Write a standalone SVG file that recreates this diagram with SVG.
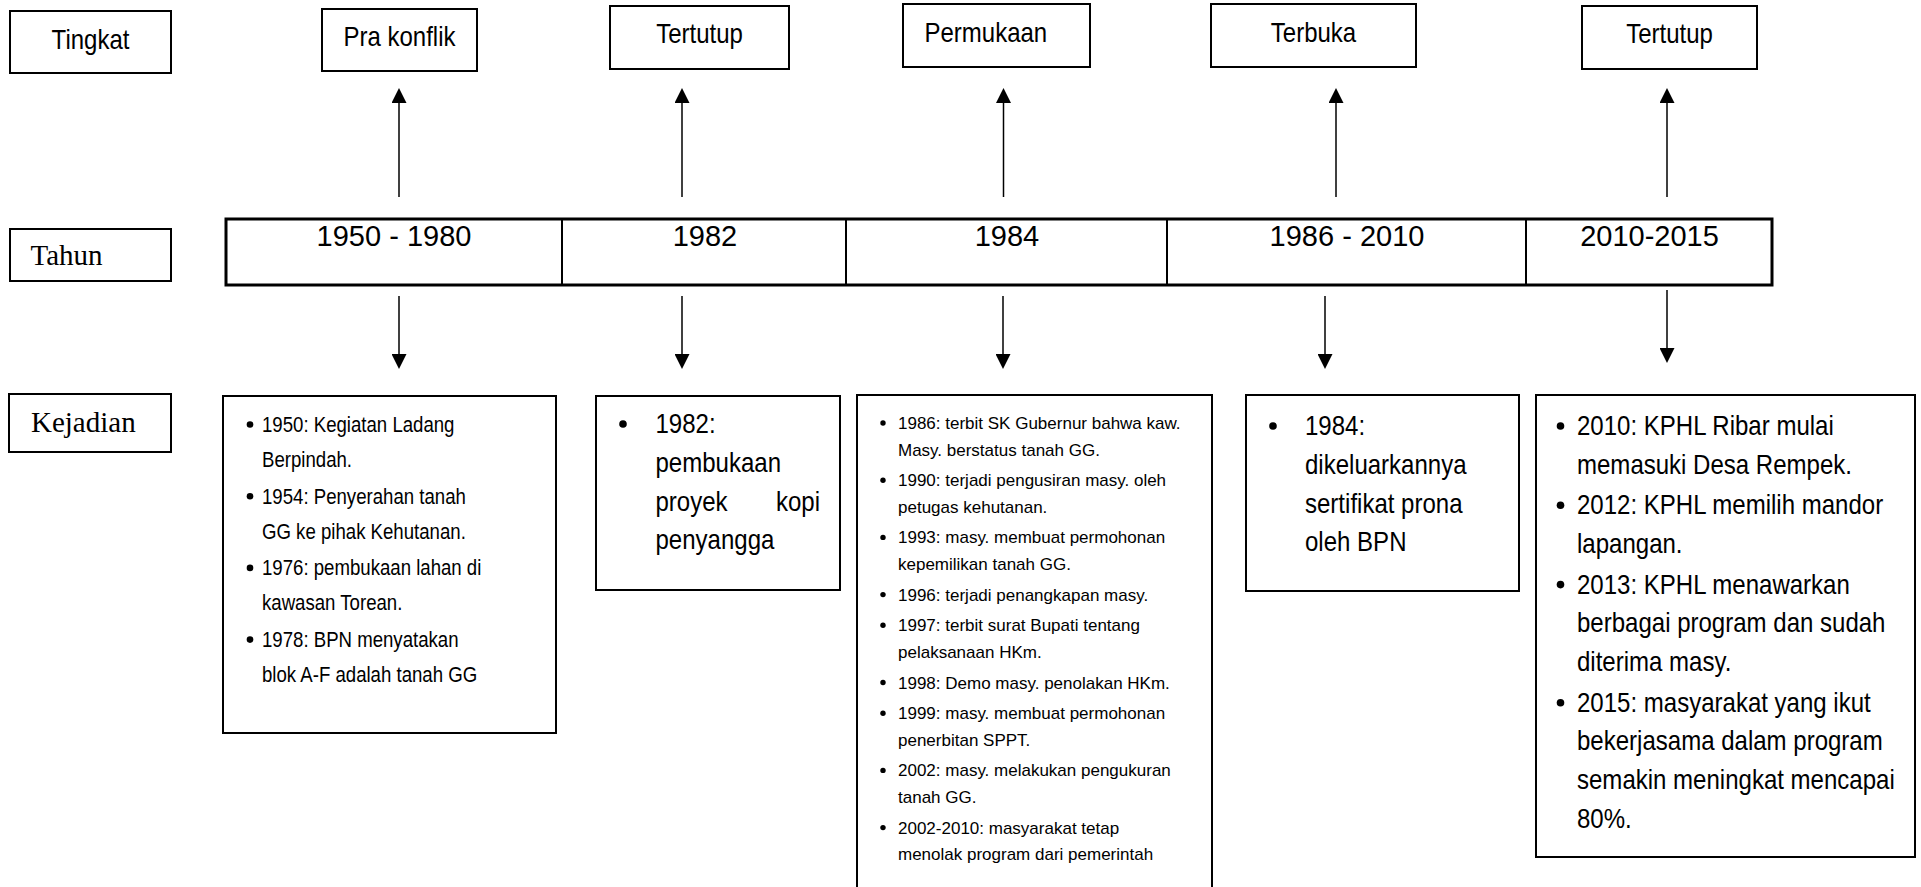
<svg xmlns="http://www.w3.org/2000/svg" width="1921" height="887" viewBox="0 0 1921 887">
<style>
  .box{fill:#fff;stroke:#000;stroke-width:2}
  .tl{fill:none;stroke:#000;stroke-width:3}
  .div{stroke:#000;stroke-width:2}
  .sans{font-family:'Liberation Sans',Arial,sans-serif;fill:#000}
  .serif{font-family:'Liberation Serif','Times New Roman',serif;fill:#000}
  .lvl{font-size:28px}
  .yr{font-size:29px}
  .lab{font-size:29px}
  .t23{font-size:23px}
  .t27{font-size:27px}
  .t17{font-size:17px}
  .c{text-anchor:middle}
  .conn line{stroke:#000;stroke-width:1.5}
</style>
<defs>
  <marker id="ah" markerUnits="userSpaceOnUse" markerWidth="15" markerHeight="15" refX="5" refY="7.5" orient="auto">
    <path d="M0,0 L15,7.5 L0,15 z" fill="#000"/>
  </marker>
</defs>
<rect width="1921" height="887" fill="#fff"/>

<!-- Row labels -->
<g id="label-tingkat"><rect class="box" x="10" y="11" width="161" height="62"/><g transform="translate(90.5,0) scale(0.857,1)"><text class="sans lvl c" x="0" y="49">Tingkat</text></g></g>
<g id="label-tahun"><rect class="box" x="10" y="229" width="161" height="52"/><text class="serif lab" x="30.5" y="265">Tahun</text></g>
<g id="label-kejadian"><rect class="box" x="9" y="394" width="162" height="58"/><text class="serif lab" x="31" y="432">Kejadian</text></g>

<!-- Level boxes -->
<g id="lvl-1"><rect class="box" x="322" y="9" width="155" height="62"/><g transform="translate(399.5,0) scale(0.857,1)"><text class="sans lvl c" x="0" y="46">Pra konflik</text></g></g>
<g id="lvl-2"><rect class="box" x="610" y="6" width="179" height="63"/><g transform="translate(699.5,0) scale(0.857,1)"><text class="sans lvl c" x="0" y="43">Tertutup</text></g></g>
<g id="lvl-3"><rect class="box" x="903" y="4" width="187" height="63"/><g transform="translate(924.5,0) scale(0.857,1)"><text class="sans lvl" x="0" y="42">Permukaan</text></g></g>
<g id="lvl-4"><rect class="box" x="1211" y="4" width="205" height="63"/><g transform="translate(1313.5,0) scale(0.857,1)"><text class="sans lvl c" x="0" y="42">Terbuka</text></g></g>
<g id="lvl-5"><rect class="box" x="1582" y="6" width="175" height="63"/><g transform="translate(1669.5,0) scale(0.857,1)"><text class="sans lvl c" x="0" y="43">Tertutup</text></g></g>

<!-- Timeline -->
<g id="timeline">
  <rect class="tl" x="226" y="219" width="1546" height="66"/>
  <line class="div" x1="562" y1="219" x2="562" y2="285"/>
  <line class="div" x1="846" y1="219" x2="846" y2="285"/>
  <line class="div" x1="1167" y1="219" x2="1167" y2="285"/>
  <line class="div" x1="1526" y1="219" x2="1526" y2="285"/>
  <g id="year-1"><text class="sans yr c" x="394" y="246">1950 - 1980</text></g>
  <g id="year-2"><text class="sans yr c" x="705" y="246">1982</text></g>
  <g id="year-3"><text class="sans yr c" x="1007" y="246">1984</text></g>
  <g id="year-4"><text class="sans yr c" x="1347" y="246">1986 - 2010</text></g>
  <g id="year-5"><text class="sans yr c" x="1649.5" y="246">2010-2015</text></g>
</g>

<!-- Event boxes -->
<g id="ev-1">
  <rect class="box" x="223" y="396" width="333" height="337"/>
  <g fill="#000"><circle cx="250" cy="424.5" r="3.3"/><circle cx="250" cy="496.2" r="3.3"/><circle cx="250" cy="567.9" r="3.3"/><circle cx="250" cy="639.6" r="3.3"/></g>
  <g transform="translate(262,0) scale(0.81,1)">
  <text class="sans t23">
    <tspan x="0" y="432">1950: Kegiatan Ladang</tspan>
    <tspan x="0" y="467">Berpindah.</tspan>
    <tspan x="0" y="503.7">1954: Penyerahan tanah</tspan>
    <tspan x="0" y="538.7">GG ke pihak Kehutanan.</tspan>
    <tspan x="0" y="575.4">1976: pembukaan lahan di</tspan>
    <tspan x="0" y="610.4">kawasan Torean.</tspan>
    <tspan x="0" y="647.1">1978: BPN menyatakan</tspan>
    <tspan x="0" y="682.1">blok A-F adalah tanah GG</tspan>
  </text>
  </g>
</g>
<g id="ev-2">
  <rect class="box" x="596" y="396" width="244" height="194"/>
  <circle cx="623" cy="424" r="3.8" fill="#000"/>
  <g transform="translate(655.5,0) scale(0.89,1)">
  <text class="sans t27">
    <tspan x="0" y="433">1982:</tspan>
    <tspan x="0" y="472">pembukaan</tspan>
    <tspan x="0" y="511">proyek</tspan>
    <tspan x="0" y="549">penyangga</tspan>
  </text>
  </g>
  <g transform="translate(820,0) scale(0.89,1)"><text class="sans t27" x="0" y="511" text-anchor="end">kopi</text></g>
</g>
<g id="ev-3">
  <rect class="box" x="857" y="395" width="355" height="500"/>
  <g fill="#000">
    <circle cx="883" cy="423" r="2.7"/><circle cx="883" cy="480.2" r="2.7"/><circle cx="883" cy="537.4" r="2.7"/>
    <circle cx="883" cy="594.6" r="2.7"/><circle cx="883" cy="625.3" r="2.7"/><circle cx="883" cy="682.5" r="2.7"/>
    <circle cx="883" cy="713.2" r="2.7"/><circle cx="883" cy="770.4" r="2.7"/><circle cx="883" cy="827.6" r="2.7"/>
  </g>
  <text class="sans t17">
    <tspan x="898" y="429">1986: terbit SK Gubernur bahwa kaw.</tspan>
    <tspan x="898" y="455.5">Masy. berstatus tanah GG.</tspan>
    <tspan x="898" y="486.2">1990: terjadi pengusiran masy. oleh</tspan>
    <tspan x="898" y="512.7">petugas kehutanan.</tspan>
    <tspan x="898" y="543.4">1993: masy. membuat permohonan</tspan>
    <tspan x="898" y="569.9">kepemilikan tanah GG.</tspan>
    <tspan x="898" y="600.6">1996: terjadi penangkapan masy.</tspan>
    <tspan x="898" y="631.3">1997: terbit surat Bupati tentang</tspan>
    <tspan x="898" y="657.8">pelaksanaan HKm.</tspan>
    <tspan x="898" y="688.5">1998: Demo masy. penolakan HKm.</tspan>
    <tspan x="898" y="719.2">1999: masy. membuat permohonan</tspan>
    <tspan x="898" y="745.7">penerbitan SPPT.</tspan>
    <tspan x="898" y="776.4">2002: masy. melakukan pengukuran</tspan>
    <tspan x="898" y="802.9">tanah GG.</tspan>
    <tspan x="898" y="833.6">2002-2010: masyarakat tetap</tspan>
    <tspan x="898" y="860.1">menolak program dari pemerintah</tspan>
  </text>
</g>
<g id="ev-4">
  <rect class="box" x="1246" y="395" width="273" height="196"/>
  <circle cx="1273" cy="426" r="3.8" fill="#000"/>
  <g transform="translate(1305,0) scale(0.89,1)">
  <text class="sans t27">
    <tspan x="0" y="435">1984:</tspan>
    <tspan x="0" y="473.8">dikeluarkannya</tspan>
    <tspan x="0" y="512.6">sertifikat prona</tspan>
    <tspan x="0" y="551.4">oleh BPN</tspan>
  </text>
  </g>
</g>
<g id="ev-5">
  <rect class="box" x="1536" y="395" width="379" height="462"/>
  <g fill="#000"><circle cx="1560.5" cy="426" r="3.8"/><circle cx="1560.5" cy="505.3" r="3.8"/><circle cx="1560.5" cy="584.6" r="3.8"/><circle cx="1560.5" cy="702.7" r="3.8"/></g>
  <g transform="translate(1577,0) scale(0.89,1)">
  <text class="sans t27">
    <tspan x="0" y="435">2010: KPHL Ribar mulai</tspan>
    <tspan x="0" y="473.8">memasuki Desa Rempek.</tspan>
    <tspan x="0" y="514.3">2012: KPHL memilih mandor</tspan>
    <tspan x="0" y="553.1">lapangan.</tspan>
    <tspan x="0" y="593.6">2013: KPHL menawarkan</tspan>
    <tspan x="0" y="632.4">berbagai program dan sudah</tspan>
    <tspan x="0" y="671.2">diterima masy.</tspan>
    <tspan x="0" y="711.7">2015: masyarakat yang ikut</tspan>
    <tspan x="0" y="750.5">bekerjasama dalam program</tspan>
    <tspan x="0" y="789.3">semakin meningkat mencapai</tspan>
    <tspan x="0" y="828.1">80%.</tspan>
  </text>
  </g>
</g>

<!-- Connectors -->
<g id="connectors" class="conn">
  <line x1="399" y1="197" x2="399" y2="98" marker-end="url(#ah)"/>
  <line x1="682" y1="197" x2="682" y2="98" marker-end="url(#ah)"/>
  <line x1="1003.5" y1="197" x2="1003.5" y2="98" marker-end="url(#ah)"/>
  <line x1="1336" y1="197" x2="1336" y2="98" marker-end="url(#ah)"/>
  <line x1="1667" y1="197" x2="1667" y2="98" marker-end="url(#ah)"/>
  <line x1="399" y1="296" x2="399" y2="359" marker-end="url(#ah)"/>
  <line x1="682" y1="296" x2="682" y2="359" marker-end="url(#ah)"/>
  <line x1="1003" y1="296" x2="1003" y2="359" marker-end="url(#ah)"/>
  <line x1="1325" y1="296" x2="1325" y2="359" marker-end="url(#ah)"/>
  <line x1="1667" y1="290" x2="1667" y2="353" marker-end="url(#ah)"/>
</g>
</svg>
